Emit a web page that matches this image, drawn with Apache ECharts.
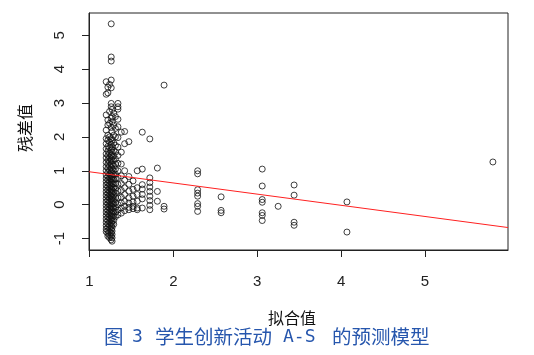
<!DOCTYPE html>
<html>
<head>
<meta charset="utf-8">
<script src="https://cdn.jsdelivr.net/npm/echarts@6/dist/echarts.min.js"></script>
<style>
  html, body { margin: 0; padding: 0; background: #fff; }
  #chart { width: 534px; height: 355px; }
</style>
</head>
<body>
<div id="chart"></div>
<script>
// fitted value of each column of points, and the residuals in that column
const fittedLevels = [1.20, 1.22, 1.24, 1.26, 1.27, 1.29, 1.31, 1.34, 1.38, 1.42, 1.47, 1.52, 1.57, 1.63, 1.72, 1.81, 1.89, 2.29, 2.57, 3.06, 3.25, 3.44, 4.07, 5.81];
const residualsByLevel = [
  [3.63, 3.26, 2.65, 2.2, 1.95, 1.8, 1.65, 1.5, 1.38, 1.25, 1.12, 1.0, 0.88, 0.78, 0.68, 0.58, 0.48, 0.38, 0.28, 0.18, 0.08, -0.02, -0.12, -0.22, -0.32, -0.42, -0.52, -0.62, -0.72, -0.8],
  [3.47, 3.3, 2.5, 2.35, 2.05, 1.9, 1.72, 1.58, 1.45, 1.32, 1.2, 1.08, 0.95, 0.83, 0.73, 0.63, 0.53, 0.43, 0.33, 0.23, 0.13, 0.03, -0.07, -0.17, -0.27, -0.37, -0.47, -0.57, -0.67, -0.77, -0.85, -0.93],
  [3.55, 2.75, 2.4, 2.0, 1.85, 1.68, 1.52, 1.4, 1.28, 1.15, 1.02, 0.9, 0.8, 0.7, 0.6, 0.5, 0.4, 0.3, 0.2, 0.1, 0.0, -0.1, -0.2, -0.3, -0.4, -0.5, -0.6, -0.7, -0.8, -0.9, -0.98],
  [5.34, 4.36, 4.24, 3.68, 3.45, 2.99, 2.89, 2.55, 2.28, 1.95, 1.78, 1.62, 1.48, 1.35, 1.22, 1.1, 0.97, 0.86, 0.76, 0.66, 0.56, 0.46, 0.36, 0.26, 0.16, 0.06, -0.04, -0.14, -0.24, -0.34, -0.44, -0.54, -0.64, -0.74, -0.84, -0.94, -1.04],
  [2.81, 2.6, 2.45, 2.16, 1.9, 1.7, 1.55, 1.42, 1.3, 1.18, 1.05, 0.92, 0.82, 0.72, 0.62, 0.52, 0.42, 0.32, 0.22, 0.12, 0.02, -0.08, -0.18, -0.28, -0.38, -0.48, -0.58, -0.68, -0.78, -0.88, -0.98, -1.08],
  [2.7, 2.35, 2.05, 1.82, 1.6, 1.44, 1.3, 1.15, 1.0, 0.88, 0.75, 0.62, 0.5, 0.38, 0.26, 0.14, 0.02, -0.1, -0.22, -0.34, -0.46, -0.58],
  [2.6, 2.25, 2.0, 1.75, 1.55, 1.35, 1.2, 1.05, 0.9, 0.76, 0.62, 0.48, 0.34, 0.2, 0.06, -0.08, -0.22, -0.36],
  [2.99, 2.89, 2.82, 2.52, 2.3, 1.98, 1.7, 1.45, 1.22, 1.0, 0.8, 0.6, 0.4, 0.2, 0.0, -0.16, -0.3],
  [2.14, 1.55, 1.2, 0.85, 0.62, 0.42, 0.22, 0.05, -0.1, -0.25],
  [2.16, 1.8, 1.0, 0.72, 0.5, 0.3, 0.1, -0.05, -0.18],
  [1.86, 0.83, 0.6, 0.4, 0.2, 0.05, -0.08, -0.15],
  [0.7, 0.45, 0.25, 0.08, -0.05, -0.12],
  [1.0, 0.5, 0.3, 0.1, -0.1, -0.15],
  [2.14, 1.05, 0.59, 0.46, 0.3, 0.17, -0.1],
  [1.94, 0.79, 0.65, 0.52, 0.39, 0.25, 0.12, -0.02, -0.15],
  [1.08, 0.39, 0.1],
  [3.53, -0.05, -0.13],
  [1.0, 0.91, 0.44, 0.34, 0.25, 0.03, -0.05, -0.2],
  [0.23, -0.17, -0.24],
  [1.05, 0.55, 0.15, 0.07, -0.24, -0.32, -0.47],
  [-0.05],
  [0.58, 0.28, -0.52, -0.61],
  [0.08, -0.81],
  [1.26]
];
const xTicks = [1, 2, 3, 4, 5];
const yTicks = [-1, 0, 1, 2, 3, 4, 5];
// red fitted line (abline)
const fitIntercept = 1.30;
const fitSlope = -0.33;

const xMin = 0.995, xMax = 5.99;
const yMin = -1.34, yMax = 5.66;

let points = [];
fittedLevels.forEach((x, i) => {
  residualsByLevel[i].forEach(y => points.push([x, y]));
});

const axisFont = { fontFamily: "Liberation Sans", fontSize: 15, color: "#222" };
const capStyle = { fontFamily: "Noto Sans CJK SC", fontSize: 19.5, fill: "#2656ad", verticalAlign: "middle" };
const capMono = { ...capStyle, fontFamily: "DejaVu Sans Mono", fontSize: 18 };

const option = {
  animation: false,
  grid: {
    left: 89,
    right: 26,
    top: 13,
    bottom: 105,
    show: true,
    borderColor: "#222",
    borderWidth: 1,
  },
  xAxis: {
    type: "value",
    min: xMin,
    max: xMax,
    splitLine: { show: false },
    axisLine: { show: true, onZero: false, lineStyle: { color: "#222" } },
    axisTick: { show: true, length: 7, lineStyle: { color: "#222" }, customValues: xTicks },
    axisLabel: { ...axisFont, margin: 24, customValues: xTicks },
  },
  yAxis: {
    type: "value",
    min: yMin,
    max: yMax,
    splitLine: { show: false },
    axisLine: { show: true, onZero: false, lineStyle: { color: "#222" } },
    axisTick: { show: true, length: 7, lineStyle: { color: "#222" }, customValues: yTicks },
    axisLabel: { ...axisFont, margin: 22, rotate: 90, customValues: yTicks },
  },
  graphic: [
    { type: "text", x: 292, y: 318, style: { text: "拟合值", fontFamily: "Noto Sans CJK SC", fontSize: 16, fill: "#111", align: "center", verticalAlign: "middle" } },
    { type: "text", x: 25, y: 128, rotation: Math.PI / 2, style: { text: "残差值", fontFamily: "Noto Sans CJK SC", fontSize: 16, fill: "#111", align: "center", verticalAlign: "middle" } },
    { type: "text", x: 104, y: 337, style: { ...capStyle, text: "图" } },
    { type: "text", x: 132, y: 337, style: { ...capMono, text: "3" } },
    { type: "text", x: 155, y: 337, style: { ...capStyle, text: "学生创新活动" } },
    { type: "text", x: 283, y: 337, style: { ...capMono, text: "A-S" } },
    { type: "text", x: 332, y: 337, style: { ...capStyle, text: "的预测模型" } },
  ],
  series: [
    {
      type: "scatter",
      data: points,
      symbol: "circle",
      symbolSize: 6,
      itemStyle: { color: "rgba(0,0,0,0)", borderColor: "#111", borderWidth: 1 },
      z: 2,
    },
    {
      type: "line",
      data: [[xMin, fitIntercept + fitSlope * xMin], [xMax, fitIntercept + fitSlope * xMax]],
      showSymbol: false,
      lineStyle: { color: "#ff2020", width: 1 },
      z: 3,
    },
  ],
};

const chart = echarts.init(document.getElementById("chart"));
chart.setOption(option);
</script>
</body>
</html>
